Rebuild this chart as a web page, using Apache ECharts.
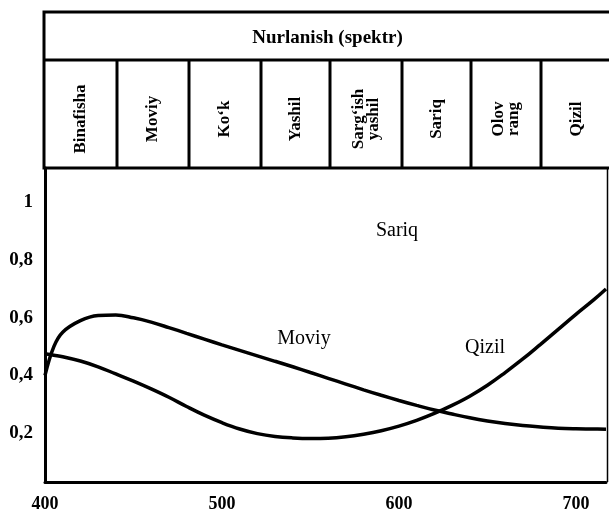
<!DOCTYPE html>
<html>
<head>
<meta charset="utf-8">
<script src="https://cdn.jsdelivr.net/npm/echarts@6/dist/echarts.min.js"></script>
<style>
  html, body { margin: 0; padding: 0; background: #fff; }
  #chart { width: 609px; height: 513px; }
</style>
</head>
<body>
<div id="chart"></div>
<script>
// wavelength, nm
const wavelengths = [400, 405, 410, 420, 430, 440, 450, 460, 470, 480, 490, 500, 510, 520, 530, 540, 550,
  560, 570, 580, 590, 600, 610, 620, 630, 640, 650, 660, 670, 680, 690, 700, 710, 717];

const moviyValues = [0.40, 0.50, 0.55, 0.59, 0.608, 0.61, 0.60, 0.585, 0.566, 0.546, 0.526, 0.506, 0.487,
  0.468, 0.449, 0.43, 0.41, 0.39, 0.37, 0.35, 0.331, 0.313, 0.296, 0.28, 0.266, 0.253, 0.242, 0.233,
  0.226, 0.221, 0.217, 0.215, 0.214, 0.213];

const qizilValues = [0.475, 0.47, 0.465, 0.45, 0.43, 0.405, 0.38, 0.353, 0.324, 0.292, 0.262, 0.236, 0.214,
  0.198, 0.188, 0.183, 0.181, 0.182, 0.187, 0.196, 0.208, 0.224, 0.244, 0.268, 0.296, 0.328, 0.366, 0.41,
  0.457, 0.508, 0.56, 0.612, 0.662, 0.70];

const bandNames = ['Binafisha', 'Moviy', 'Ko‘k', 'Yashil', 'Sarg‘ish\nyashil', 'Sariq', 'Olov\nrang', 'Qizil'];
const headerTitle = 'Nurlanish (spektr)';

const xTicks = [400, 500, 600, 700];
const xTickLabels = ['400', '500', '600', '700'];
const yTicks = [0.2, 0.4, 0.6, 0.8, 1];
const yTickLabels = ['0,2', '0,4', '0,6', '0,8', '1'];

const serif = '"Liberation Serif", "DejaVu Serif", serif';

const chart = echarts.init(document.getElementById('chart'));

const tickLabel = (ticks, labels) => (v) => {
  const i = ticks.findIndex(t => Math.abs(t - v) < 1e-6);
  return i >= 0 ? labels[i] : '';
};

// header table layout (pixels)
const headTop = 12, headMid = 60, headBottom = 168, headLeft = 44;
const bandEdges = [44, 117, 189, 261, 330, 402, 471, 541, 612];

const headerGraphics = [
  {
    type: 'rect',
    shape: { x: headLeft, y: headTop, width: 600, height: headBottom - headTop },
    style: { fill: '#fff', stroke: '#000', lineWidth: 3 }
  },
  {
    type: 'line',
    shape: { x1: headLeft, y1: headMid, x2: 609, y2: headMid },
    style: { stroke: '#000', lineWidth: 3 }
  },
  {
    type: 'text',
    x: (headLeft + 609) / 2 + 1,
    y: (headTop + headMid) / 2 + 2,
    style: {
      text: headerTitle, fill: '#000', font: 'bold 19px ' + serif,
      align: 'center', verticalAlign: 'middle'
    }
  }
];

bandNames.forEach((name, i) => {
  if (i > 0) {
    headerGraphics.push({
      type: 'line',
      shape: { x1: bandEdges[i], y1: headMid, x2: bandEdges[i], y2: headBottom },
      style: { stroke: '#000', lineWidth: 3 }
    });
  }
  headerGraphics.push({
    type: 'text',
    x: (bandEdges[i] + bandEdges[i + 1]) / 2,
    y: (headMid + headBottom) / 2 + 5,
    rotation: Math.PI / 2,
    style: {
      text: name, fill: '#000', font: 'bold 17px ' + serif,
      align: 'center', verticalAlign: 'middle', lineHeight: 15
    }
  });
});

// curve labels
const curveLabel = (text, x, y) => ({
  type: 'text', x, y,
  style: { text, fill: '#000', font: '20px ' + serif, align: 'center', verticalAlign: 'middle' }
});

const option = {
  backgroundColor: '#fff',
  animation: false,
  grid: { left: 45, right: 1, top: 168, bottom: 31 },
  xAxis: {
    type: 'value',
    min: 400,
    max: 717,
    interval: 100,
    axisLine: { show: true, lineStyle: { color: '#000', width: 3 } },
    axisTick: { show: false },
    splitLine: { show: false },
    axisLabel: {
      formatter: tickLabel(xTicks, xTickLabels),
      color: '#000', fontFamily: serif, fontWeight: 'bold', fontSize: 18, margin: 13
    }
  },
  yAxis: {
    type: 'value',
    min: 0.03,
    max: 1.12,
    splitNumber: 5,
    axisLine: { show: true, lineStyle: { color: '#000', width: 3 } },
    axisTick: { show: false },
    splitLine: { show: false },
    axisLabel: {
      formatter: tickLabel(yTicks, yTickLabels),
      color: '#000', fontFamily: serif, fontWeight: 'bold', fontSize: 19, margin: 12
    }
  },
  series: [
    {
      name: 'Moviy',
      type: 'line',
      smooth: 0.4,
      symbol: 'none',
      lineStyle: { color: '#000', width: 3.5 },
      data: wavelengths.map((w, i) => [w, moviyValues[i]])
    },
    {
      name: 'Qizil',
      type: 'line',
      smooth: 0.4,
      symbol: 'none',
      lineStyle: { color: '#000', width: 3.5 },
      data: wavelengths.map((w, i) => [w, qizilValues[i]])
    }
  ],
  graphic: headerGraphics.concat([
    curveLabel('Moviy', 304, 339),
    curveLabel('Qizil', 485, 348),
    curveLabel('Sariq', 397, 231),
    {
      type: 'line',
      shape: { x1: 607.5, y1: headBottom, x2: 607.5, y2: 482 },
      style: { stroke: '#000', lineWidth: 1.5 }
    }
  ])
};

chart.setOption(option);
</script>
</body>
</html>
